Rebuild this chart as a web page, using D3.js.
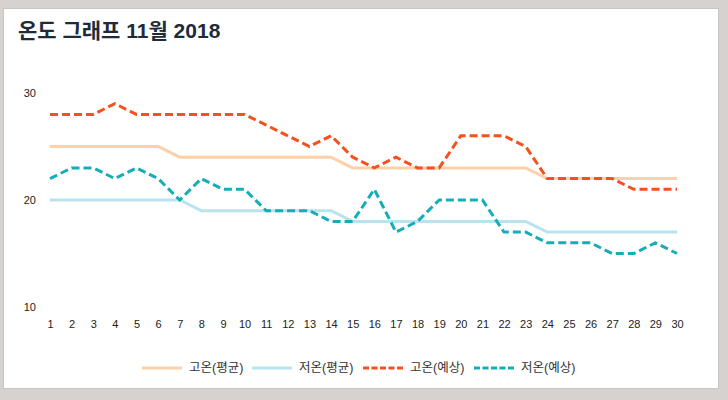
<!DOCTYPE html>
<html><head><meta charset="utf-8">
<script src="https://cdn.jsdelivr.net/npm/d3@7/dist/d3.min.js"></script>
<style>
html,body{margin:0;padding:0;background:#d6d2d0;width:728px;height:400px;overflow:hidden;}
svg{display:block;}
</style></head>
<body>
<svg id="c" width="728" height="400"></svg>
<script>
const title = "온도 그래프 11월 2018";
const days = d3.range(1, 31);
const yTicks = [10, 20, 30];
const seriesNames = ["고온(평균)", "저온(평균)", "고온(예상)", "저온(예상)"];
const highAvg = [25,25,25,25,25,25,24,24,24,24,24,24,24,24,23,23,23,23,23,23,23,23,23,22,22,22,22,22,22,22];
const lowAvg  = [20,20,20,20,20,20,20,19,19,19,19,19,19,19,18,18,18,18,18,18,18,18,18,17,17,17,17,17,17,17];
const highFc  = [28,28,28,29,28,28,28,28,28,28,27,26,25,26,24,23,24,23,23,26,26,26,25,22,22,22,22,21,21,21];
const lowFc   = [22,23,23,22,23,22,20,22,21,21,19,19,19,18,18,21,17,18,20,20,20,17,17,16,16,16,15,15,16,15];
const colors = ["#fdd0a8", "#b9e3ee", "#f4511e", "#14adb8"];
const dashed = [false, false, true, true];
const allSeries = [highAvg, lowAvg, highFc, lowFc];

const svg = d3.select("#c");
svg.append("rect").attr("x",3.5).attr("y",8.5).attr("width",715).attr("height",380)
  .attr("fill","#fff").attr("stroke","#c8c4c2").attr("stroke-width",1);

svg.append("text").attr("x",18).attr("y",38).text(title)
  .attr("font-family","'Liberation Sans', 'Noto Sans CJK KR', sans-serif")
  .attr("font-weight","bold").attr("font-size",21).attr("fill","#1e2b3a");

const x = d3.scalePoint().domain(days).range([50, 677]);
const y = d3.scaleLinear().domain([10, 30]).range([307, 93]);

const font = "'Liberation Sans', Arial, sans-serif";
const yAxis = svg.append("g").attr("transform","translate(36,0)")
  .call(d3.axisLeft(y).tickValues(yTicks).tickSize(0).tickPadding(0));
yAxis.select(".domain").remove();
yAxis.selectAll("text").attr("font-family",font).attr("font-size",11).attr("fill","#222");

const xAxis = svg.append("g").attr("transform","translate(0,320)")
  .call(d3.axisBottom(x).tickSize(0).tickPadding(0));
xAxis.select(".domain").remove();
xAxis.selectAll("text").attr("font-family",font).attr("font-size",11).attr("fill","#222");

const line = d3.line().x((d,i)=>x(days[i])).y(d=>y(d));
allSeries.forEach((s,k)=>{
  svg.append("path").datum(s).attr("d",line).attr("fill","none")
    .attr("stroke",colors[k]).attr("stroke-width",3)
    .attr("stroke-dasharray", dashed[k] ? "8,4" : null);
});

// legend
const legendX = [142, 252, 363, 474];
const lg = svg.append("g");
seriesNames.forEach((n,k)=>{
  lg.append("line").attr("x1",legendX[k]).attr("x2",legendX[k]+40)
    .attr("y1",368).attr("y2",368).attr("stroke",colors[k]).attr("stroke-width",3)
    .attr("stroke-dasharray", dashed[k] ? "6,2.5" : null);
  lg.append("text").attr("x",legendX[k]+47).attr("y",372).text(n)
    .attr("font-family","'Liberation Sans', 'Noto Sans CJK KR', sans-serif").attr("font-size",12.5).attr("fill","#333");
});
</script>
</body></html>
